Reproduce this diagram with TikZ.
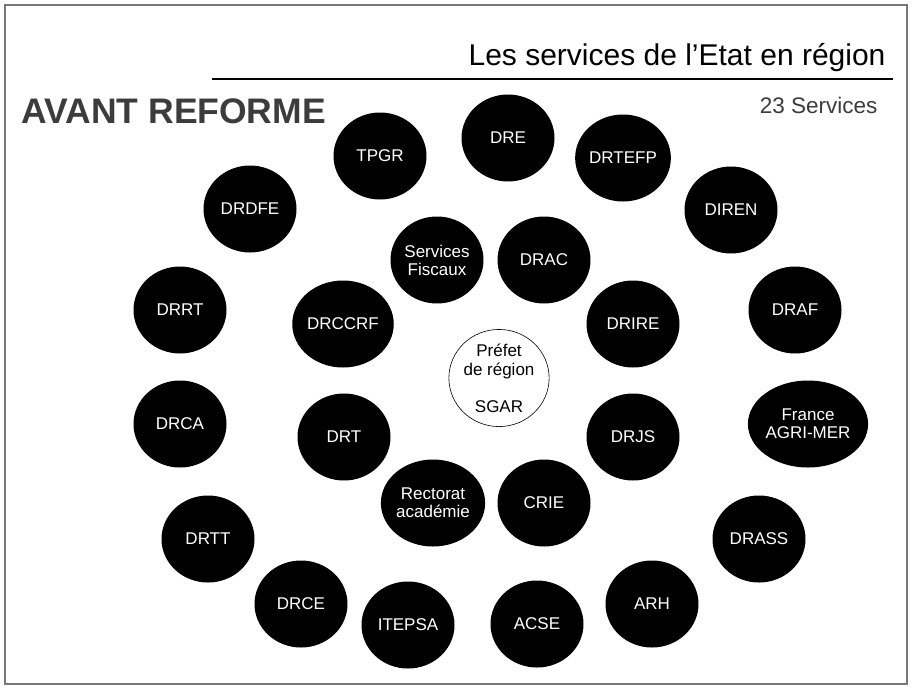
\documentclass[tikz,border=0pt]{standalone}
\usepackage{fontspec}
\setmainfont{Liberation Sans}
\usepackage{tikz}
\usetikzlibrary{shapes.geometric}
\definecolor{framegray}{RGB}{120,120,120}
\definecolor{headgray}{RGB}{60,60,60}
\newcommand{\svcfont}{\fontsize{17}{18}\selectfont}

\tikzset{
	service/.style={ellipse, fill=black, text=white, minimum width=93pt, minimum height=87pt, inner sep=0pt, align=center, font=\svcfont},
	prefet/.style={ellipse, draw=black, line width=0.6pt, fill=white, minimum width=94pt, minimum height=89pt, inner sep=0pt, align=center, font=\fontsize{17}{19}\selectfont}
}

\begin{document}
\begin{tikzpicture}[x=1pt, y=-1pt]
	\useasboundingbox (0,0) rectangle (912,686);
	\draw[framegray, line width=1.3pt] (5,5) rectangle (907,684);
	\node[anchor=base east, font=\fontsize{30}{32}\selectfont] (title) at (889,65) {Les services de l’Etat en région};
	\draw[line width=2pt] (212,79) -- (893,79);
	\node[anchor=base west, text=headgray, font=\bfseries\fontsize{35.5}{38}\selectfont] (avant) at (18,123) {AVANT REFORME};
	\node[anchor=base east, text=headgray, font=\fontsize{22.5}{24}\selectfont] (count) at (881,113) {23 Services};
	\node[prefet] (prefet) at (499,378) {Préfet\\de région\\[18pt]SGAR};
	\node[service] (tpgr) at (380,156) {TPGR};
	\node[service] (dre) at (508,138) {DRE};
	\node[service] (drtefp) at (623,158) {DRTEFP};
	\node[service] (drdfe) at (250,209) {DRDFE};
	\node[service] (diren) at (731,210) {DIREN};
	\node[service] (fiscaux) at (437,260) {Services\\Fiscaux};
	\node[service] (drac) at (544,260) {DRAC};
	\node[service] (drrt) at (180,310) {DRRT};
	\node[service] (drccrf) at (343,324) {DRCCRF};
	\node[service] (drire) at (633,324) {DRIRE};
	\node[service] (draf) at (795,310) {DRAF};
	\node[service] (drca) at (180,424) {DRCA};
	\node[service] (drt) at (344,437) {DRT};
	\node[service] (drjs) at (633,437) {DRJS};
	\node[service] (agrimer) at (808,424) {France\\AGRI-MER};
	\node[service] (rectorat) at (433,503) {Rectorat\\académie};
	\node[service] (crie) at (544,503) {CRIE};
	\node[service] (drtt) at (208,539) {DRTT};
	\node[service] (drass) at (759,539) {DRASS};
	\node[service] (drce) at (301,604) {DRCE};
	\node[service] (arh) at (652,604) {ARH};
	\node[service] (itepsa) at (408,625) {ITEPSA};
	\node[service] (acse) at (537,624) {ACSE};
\end{tikzpicture}
\end{document}
